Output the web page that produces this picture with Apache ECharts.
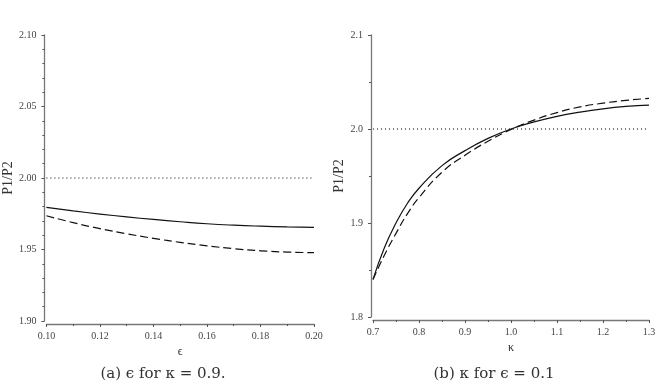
<!DOCTYPE html>
<html>
<head>
<meta charset="utf-8">
<script src="https://cdn.jsdelivr.net/npm/echarts@6/dist/echarts.min.js"></script>
<style>
  html, body { margin: 0; padding: 0; background: #fff; }
  #chart { width: 663px; height: 384px; }
</style>
</head>
<body>
<div id="chart"></div>
<script>
// (a) epsilon for kappa = 0.9
const epsValues = [0.10, 0.11, 0.12, 0.13, 0.14, 0.15, 0.16, 0.17, 0.18, 0.19, 0.20]
const epsSolid = [1.9794, 1.9770, 1.9748, 1.9728, 1.9710, 1.9694, 1.9680, 1.9670, 1.9663, 1.9658, 1.9655]
const epsDashed = [1.9736, 1.9688, 1.9646, 1.9610, 1.9578, 1.9550, 1.9526, 1.9506, 1.9491, 1.9482, 1.9478]

// (b) kappa for epsilon = 0.1
const kapValues = [0.70, 0.725, 0.75, 0.775, 0.80, 0.85, 0.90, 0.95, 1.00, 1.05, 1.10, 1.15, 1.20, 1.25, 1.30]
const kapSolid = [1.840, 1.874, 1.900, 1.921, 1.937, 1.961, 1.977, 1.990, 2.000, 2.0075, 2.0135, 2.018, 2.0215, 2.024, 2.0255]
const kapDashed = [1.840, 1.866, 1.889, 1.910, 1.927, 1.954, 1.9720, 1.987, 1.9995, 2.0095, 2.0175, 2.0235, 2.0275, 2.0305, 2.0325]

const refLevel = 2.0

const font = 'Liberation Serif'
const pair = (xs, ys) => xs.map((x, i) => [x, ys[i]])

function xAxisOf (grid, min, max, step, minor, digits, name) {
  return {
    type: 'value', gridIndex: grid, min, max, interval: step, offset: 3,
    name, nameLocation: 'middle', nameGap: 15,
    nameTextStyle: { fontFamily: font, fontSize: 12, color: '#333' },
    axisLine: { lineStyle: { color: '#777', width: 1.3 } },
    axisTick: { length: 3, lineStyle: { color: '#555' } },
    minorTick: { show: true, splitNumber: minor, length: 2, lineStyle: { color: '#555' } },
    axisLabel: { fontFamily: font, fontSize: 10, color: '#444', margin: 7, formatter: v => v.toFixed(digits) },
    splitLine: { show: false }
  }
}

function yAxisOf (grid, min, max, step, minor, digits, gap) {
  return {
    type: 'value', gridIndex: grid, min, max, interval: step, offset: 2,
    name: 'P1/P2', nameLocation: 'middle', nameGap: gap,
    nameTextStyle: { fontFamily: font, fontSize: 14, color: '#333' },
    axisLine: { show: true, lineStyle: { color: '#777', width: 1.3 } },
    axisTick: { show: true, length: 3, lineStyle: { color: '#555' } },
    minorTick: { show: true, splitNumber: minor, length: 2, lineStyle: { color: '#555' } },
    axisLabel: { fontFamily: font, fontSize: 10, color: '#444', margin: 8, formatter: v => v.toFixed(digits) },
    splitLine: { show: false }
  }
}

function curve (idx, data, type) {
  return {
    type: 'line', xAxisIndex: idx, yAxisIndex: idx, data, smooth: true,
    symbol: 'none', silent: true,
    lineStyle: { color: '#111', width: 1.2, type: type === 'dashed' ? [8, 4] : 'solid' }
  }
}

function refLine (idx, x0, x1) {
  return {
    type: 'line', xAxisIndex: idx, yAxisIndex: idx, symbol: 'none', silent: true,
    data: [[x0, refLevel], [x1, refLevel]],
    lineStyle: { color: '#000', width: 1, type: [1, 3] }
  }
}

const chart = echarts.init(document.getElementById('chart'))
chart.setOption({
  animation: false,
  grid: [
    { left: 44, right: 349, top: 35, bottom: 63 },
    { left: 373, right: 14, top: 35, bottom: 67 }
  ],
  xAxis: [
    xAxisOf(0, 0.10, 0.20, 0.02, 2, 2, 'ϵ'),
    xAxisOf(1, 0.7, 1.3, 0.1, 2, 1, 'κ')
  ],
  yAxis: [
    yAxisOf(0, 1.90, 2.10, 0.05, 5, 2, 27),
    yAxisOf(1, 1.8, 2.1, 0.1, 2, 1, 24)
  ],
  series: [
    refLine(0, 0.10, 0.20),
    curve(0, pair(epsValues, epsSolid), 'solid'),
    curve(0, pair(epsValues, epsDashed), 'dashed'),
    refLine(1, 0.7, 1.3),
    curve(1, pair(kapValues, kapSolid), 'solid'),
    curve(1, pair(kapValues, kapDashed), 'dashed')
  ],
  graphic: [
    { type: 'text', x: 163, y: 374, style: { text: '(a) ϵ for κ = 0.9.', fontFamily: 'DejaVu Serif', fontSize: 15, fill: '#333', align: 'center', verticalAlign: 'middle' } },
    { type: 'text', x: 494, y: 374, style: { text: '(b) κ for ϵ = 0.1', fontFamily: 'DejaVu Serif', fontSize: 15, fill: '#333', align: 'center', verticalAlign: 'middle' } }
  ]
})
</script>
</body>
</html>
